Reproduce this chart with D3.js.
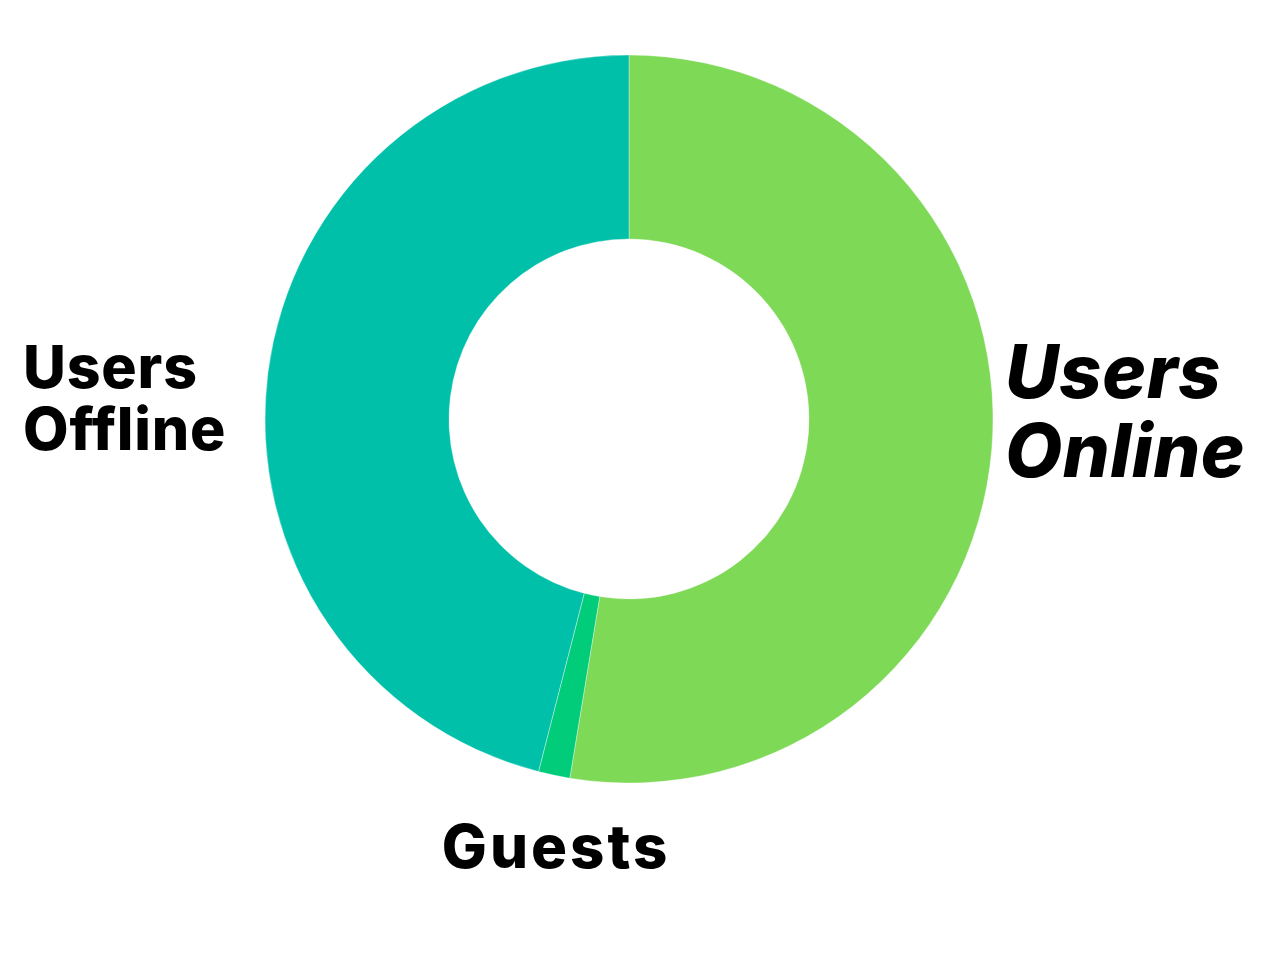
<!DOCTYPE html>
<html>
<head>
<meta charset="utf-8">
<script src="https://cdn.jsdelivr.net/npm/d3@7"></script>
<style>
  html, body { margin: 0; padding: 0; background: #fff; }
  svg { display: block; }
  .lbl { font-family: Inter, "Noto Sans", sans-serif; font-weight: 800; fill: #000; }
</style>
</head>
<body>
<div id="chart"></div>
<script>
// slice order: clockwise from 12 o'clock
var categories = ["Users Online", "Guests", "Users Offline"];
var values = [52.6, 1.4, 46.0];
var colors = ["#7ED957", "#00CC79", "#00C0A9"];

var width = 1280, height = 960;
var cx = 629, cy = 419;
var outerR = 364, innerR = 180;

var svg = d3.select("#chart").append("svg")
    .attr("width", width)
    .attr("height", height);

var g = svg.append("g").attr("transform", "translate(" + cx + "," + cy + ")");

var pie = d3.pie().sort(null).value(function(d) { return d; });
var arc = d3.arc().innerRadius(innerR).outerRadius(outerR);
var arcs = pie(values);

g.selectAll("path")
    .data(arcs)
    .enter()
    .append("path")
    .attr("d", arc)
    .attr("fill", function(d, i) { return colors[i]; })
    .attr("stroke", "#ffffff")
    .attr("stroke-opacity", 0.35)
    .attr("stroke-width", 1);

// labels outside the ring, placed from each slice's mid angle
arcs.forEach(function(d, i) {
    var mid = (d.startAngle + d.endAngle) / 2;
    var s = Math.sin(mid);
    var words = categories[i].split(" ");
    var t = g.append("text").attr("class", "lbl");
    if (Math.abs(s) > 0.7) {
        if (s > 0) {
            // right side, larger italic
            var rx = outerR + 12;
            t.attr("y", -21)
             .attr("text-anchor", "start")
             .style("font-size", "74px")
             .style("letter-spacing", "0.5px")
             .style("font-style", "italic");
            t.append("tspan").attr("x", rx).attr("dy", 0).text(words[0]);
            t.append("tspan").attr("x", rx).attr("dy", 79).text(words[1]);
        } else {
            var lx = -cx + 23;
            t.attr("y", -31)
             .attr("text-anchor", "start")
             .style("font-size", "59px")
             .style("letter-spacing", "0.8px");
            t.append("tspan").attr("x", lx).attr("dy", 0).text(words[0]);
            t.append("tspan").attr("x", lx).attr("dy", 62).text(words[1]);
        }
    } else {
        t.attr("x", s * outerR + 2).attr("y", outerR + 85)
         .attr("text-anchor", "middle")
         .style("font-size", "60px")
         .style("letter-spacing", "3px")
         .text(categories[i]);
    }
});
</script>
</body>
</html>
